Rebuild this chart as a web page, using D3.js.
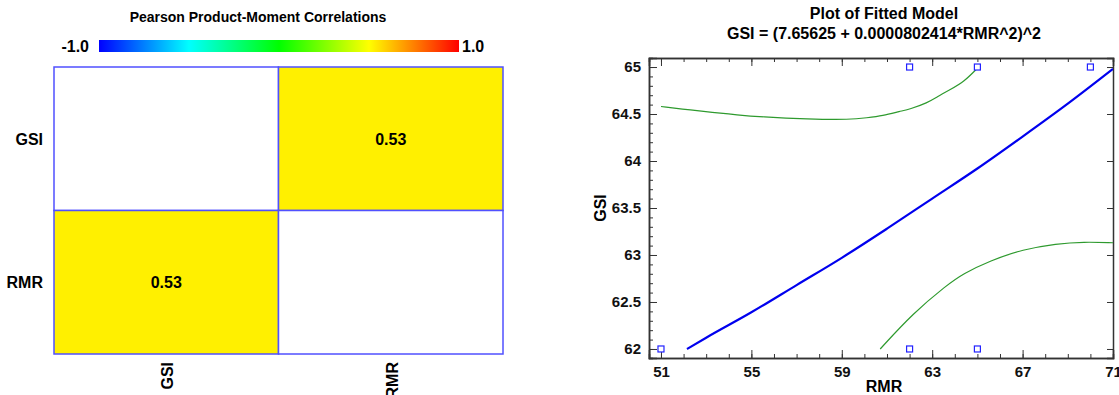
<!DOCTYPE html>
<html>
<head>
<meta charset="utf-8">
<script src="https://cdn.jsdelivr.net/npm/d3@7"></script>
<style>
  body { margin: 0; background: #fff; }
  svg { font-family: "Liberation Sans", Arial, sans-serif; font-weight: bold; }
</style>
</head>
<body>
<svg id="chart" width="1119" height="395"></svg>
<script>

// correlation matrix data
var variables = ["GSI", "RMR"]
var correlations = [[null, 0.53], [0.53, null]]

// colour bar stops
var color_stops = [-1, -0.5, 0, 0.5, 1]
var color_values = ["#0000ff", "#00ffff", "#00ff00", "#ffff00", "#ff0000"]

// observed points (RMR, GSI)
var obs_rmr = [51, 62, 65, 70, 62, 65]
var obs_gsi = [62, 65, 65, 65, 62, 62]

// fitted model
var fit_rmr = [52.15, 53, 55, 57, 59, 61, 63, 65, 67, 69, 71]
var fit_gsi = [62.0, 62.12, 62.39, 62.68, 62.97, 63.28, 63.6, 63.92, 64.26, 64.61, 64.98]

// upper prediction limit
var upper_rmr = [51, 52.4, 53.2, 54.4, 55.4, 57.5, 59.4, 60.1, 60.8, 61.6, 62, 62.8, 63.2, 63.8, 64.4, 65.05]
var upper_gsi = [64.58, 64.54, 64.52, 64.49, 64.47, 64.445, 64.44, 64.46, 64.48, 64.53, 64.55, 64.62, 64.68, 64.76, 64.84, 65.0]

// lower prediction limit
var lower_rmr = [60.7, 62.15, 63.65, 64.36, 65.56, 67.02, 68.5, 69.7, 71]
var lower_gsi = [62.0, 62.38, 62.68, 62.8, 62.94, 63.06, 63.12, 63.14, 63.13]

// tick labels
var x_ticks = [51, 55, 59, 63, 67, 71]
var y_ticks = [62, 62.5, 63, 63.5, 64, 64.5, 65]

var svg = d3.select("#chart")

// draw the correlation heatmap
function draw_heatmap(){

	var color = d3.scaleLinear().domain(color_stops).range(color_values)

	svg.append("text")
	.attr("x", 258).attr("y", 22)
	.attr("text-anchor", "middle")
	.style("font-size", "14px")
	.text("Pearson Product-Moment Correlations")

	// colour bar
	var grad = svg.append("defs").append("linearGradient")
	.attr("id", "grad")
	color_stops.forEach(function(d, i){
		grad.append("stop")
		.attr("offset", (i / (color_stops.length - 1) * 100) + "%")
		.attr("stop-color", color_values[i])
	})

	svg.append("rect")
	.attr("x", 99).attr("y", 40).attr("width", 360).attr("height", 12)
	.style("fill", "url(#grad)")

	svg.append("text").attr("x", 89).attr("y", 52).attr("text-anchor", "end")
	.style("font-size", "16px").text("-1.0")
	svg.append("text").attr("x", 462).attr("y", 52)
	.style("font-size", "16px").text("1.0")

	var x = d3.scaleBand().domain(variables).range([54, 503])
	var y = d3.scaleBand().domain(variables).range([67, 354])

	var cells = []
	variables.forEach(function(r, i){
		variables.forEach(function(c, j){
			cells.push({row: r, col: c, value: correlations[i][j]})
		})
	})

	svg.selectAll(".cell")
	.data(cells)
	.enter().append("rect")
	.attr("class", "cell")
	.attr("x", function(d){ return x(d.col) })
	.attr("y", function(d){ return y(d.row) })
	.attr("width", x.bandwidth())
	.attr("height", y.bandwidth())
	.style("fill", function(d){ return d.value === null ? "#fff" : color(d.value) })
	.style("stroke", "#5050ff")
	.style("stroke-width", 1.5)

	svg.selectAll(".cell-text")
	.data(cells.filter(function(d){ return d.value !== null }))
	.enter().append("text")
	.attr("x", function(d){ return x(d.col) + x.bandwidth() / 2 })
	.attr("y", function(d){ return y(d.row) + y.bandwidth() / 2 + 6 })
	.attr("text-anchor", "middle")
	.style("font-size", "16px")
	.text(function(d){ return d.value.toFixed(2) })

	// row labels
	svg.selectAll(".row-label")
	.data(variables)
	.enter().append("text")
	.attr("x", 43)
	.attr("y", function(d){ return y(d) + y.bandwidth() / 2 + 6 })
	.attr("text-anchor", "end")
	.style("font-size", "16px")
	.text(function(d){ return d })

	// column labels
	svg.selectAll(".col-label")
	.data(variables)
	.enter().append("text")
	.attr("transform", function(d){ return "translate(" + (x(d) + x.bandwidth() / 2 + 7) + ",362) rotate(-90)" })
	.attr("text-anchor", "end")
	.style("font-size", "16px")
	.text(function(d){ return d })
}

// draw the fitted model plot
function draw_fit(){

	var left = 649, right = 1113, top = 58, bottom = 358

	var x = d3.scaleLinear().domain([50.47, 71]).range([left, right])
	var y = d3.scaleLinear().domain([61.904, 65.096]).range([bottom, top])

	svg.append("text").attr("x", 884).attr("y", 19).attr("text-anchor", "middle")
	.style("font-size", "16px").text("Plot of Fitted Model")
	svg.append("text").attr("x", 884).attr("y", 39).attr("text-anchor", "middle")
	.style("font-size", "16px").text("GSI = (7.65625 + 0.0000802414*RMR^2)^2")

	svg.append("clipPath").attr("id", "clip")
	.append("rect").attr("x", left).attr("y", top)
	.attr("width", right - left).attr("height", bottom - top)

	var g = svg.append("g")

	// minor and major ticks, pointing inward, mirrored on top and right
	var x_minor = d3.range(51, 71.01, 1)
	var y_minor = d3.range(620, 651, 1).map(function(d){ return d / 10 })

	g.append("g").attr("transform", "translate(0," + bottom + ")")
	.call(d3.axisBottom(x).tickValues(x_minor).tickSize(-4).tickFormat(""))
	g.append("g").attr("transform", "translate(0," + bottom + ")")
	.call(d3.axisBottom(x).tickValues(x_ticks).tickSize(-8).tickPadding(8).tickFormat(d3.format("d")))
	g.append("g").attr("transform", "translate(0," + top + ")")
	.call(d3.axisTop(x).tickValues(x_minor).tickSize(-4).tickFormat(""))
	g.append("g").attr("transform", "translate(0," + top + ")")
	.call(d3.axisTop(x).tickValues(x_ticks).tickSize(-8).tickFormat(""))

	g.append("g").attr("transform", "translate(" + left + ",0)")
	.call(d3.axisLeft(y).tickValues(y_minor).tickSize(-4).tickFormat(""))
	g.append("g").attr("transform", "translate(" + left + ",0)")
	.call(d3.axisLeft(y).tickValues(y_ticks).tickSize(-8).tickPadding(8).tickFormat(function(d){ return d3.format("")(d) }))
	g.append("g").attr("transform", "translate(" + right + ",0)")
	.call(d3.axisRight(y).tickValues(y_ticks).tickSize(-6).tickFormat(""))

	g.selectAll(".domain").style("stroke", "#333").style("stroke-width", 1.5)
	g.selectAll(".tick line").style("stroke", "#333")
	g.selectAll(".tick text")
	.style("font-family", "'Liberation Sans', Arial, sans-serif")
	.style("font-weight", "bold")
	.style("font-size", "15px")
	.style("fill", "#111")

	var line = d3.line()
	.x(function(d){ return x(d[0]) })
	.y(function(d){ return y(d[1]) })
	.curve(d3.curveMonotoneX)

	// smoother curve for the limits, read points are a bit noisy
	var limit_line = d3.line()
	.x(function(d){ return x(d[0]) })
	.y(function(d){ return y(d[1]) })
	.curve(d3.curveBasis)

	var plot = svg.append("g").attr("clip-path", "url(#clip)")

	plot.append("path")
	.datum(d3.zip(upper_rmr, upper_gsi))
	.attr("d", limit_line)
	.style("fill", "none").style("stroke", "#2e9a2e").style("stroke-width", 1.2)

	plot.append("path")
	.datum(d3.zip(lower_rmr, lower_gsi))
	.attr("d", limit_line)
	.style("fill", "none").style("stroke", "#2e9a2e").style("stroke-width", 1.2)

	plot.append("path")
	.datum(d3.zip(fit_rmr, fit_gsi))
	.attr("d", line)
	.style("fill", "none").style("stroke", "#0000ee").style("stroke-width", 2.2)

	svg.selectAll(".obs")
	.data(d3.zip(obs_rmr, obs_gsi))
	.enter().append("rect")
	.attr("x", function(d){ return x(d[0]) - 3 })
	.attr("y", function(d){ return y(d[1]) - 3 })
	.attr("width", 6).attr("height", 6)
	.style("fill", "#fff").style("stroke", "#2222ff").style("stroke-width", 1.2)

	// axis titles
	svg.append("text").attr("x", 884).attr("y", 392).attr("text-anchor", "middle")
	.style("font-size", "16px").text("RMR")
	svg.append("text").attr("transform", "translate(606,208) rotate(-90)")
	.attr("text-anchor", "middle")
	.style("font-size", "16px").text("GSI")
}

draw_heatmap()
draw_fit()

</script>
</body>
</html>
